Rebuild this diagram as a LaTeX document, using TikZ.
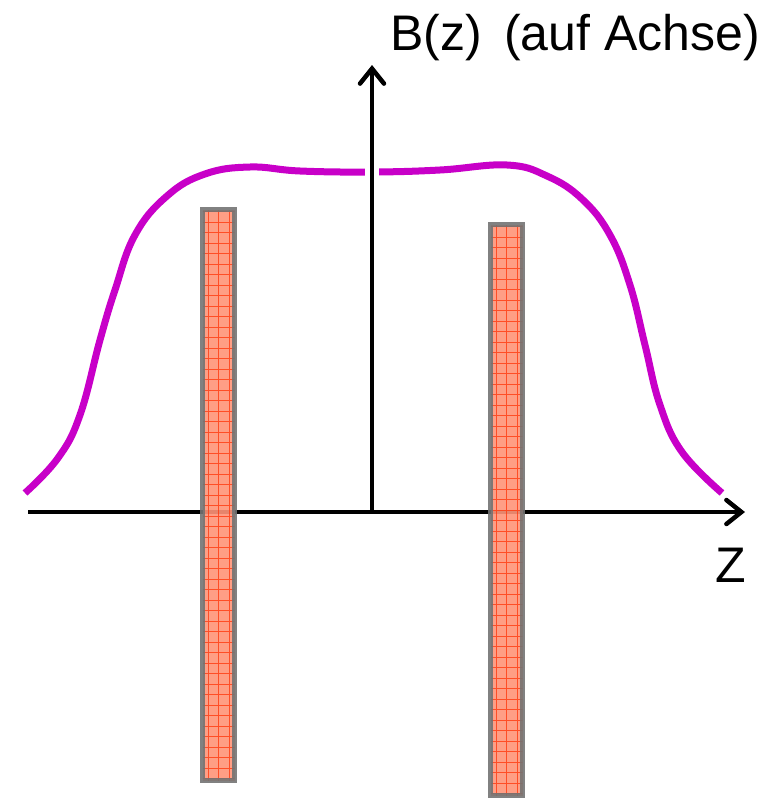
\documentclass[tikz,border=0pt]{standalone}
\usepackage{fontspec}
\setmainfont{Liberation Sans}
\usepackage{tikz}
\usetikzlibrary{arrows.meta, positioning}
\definecolor{mymagenta}{HTML}{C800C8}
\definecolor{coilfill}{HTML}{FF9478}
\definecolor{coilgrid}{HTML}{FF3A10}
\tikzset{
	axisline/.style={
			line width=4.5pt,
			draw=black,
			-{Straight Barb[length=15pt, width=24pt, line cap=round]}
		},
	fieldcurve/.style={
			line width=7pt,
			draw=mymagenta
		},
	coilnode/.style={
			rectangle,
			draw=black!55,
			line width=5pt,
			draw opacity=0.9,
			fill=coilfill,
			fill opacity=0.9,
			minimum width=32pt,
			minimum height=571pt,
			inner sep=0pt,
			path picture={
					\draw[coilgrid, line width=1pt, opacity=0.8]
					(path picture bounding box.south west) grid[step=10.5pt]
					(path picture bounding box.north east);
				}
		},
	labelnode/.style={
			inner sep=0pt,
			font=\fontsize{50}{60}\selectfont
		}
}

\begin{document}
\begin{tikzpicture}[x=1pt, y=-1pt]
\useasboundingbox (0,0) rectangle (771,798);

% field on the axis
\draw[fieldcurve] plot[smooth, tension=0.7] coordinates {
	(25,493) (58,458) (80,415) (100,340) (115,290)
	(135,235) (167,196) (205,174) (250,167) (300,171) (372,172)
	(440,170) (507,165) (547,176) (582,199) (610,235) (630,285)
	(645,345) (660,405) (682,452) (722,493)};

% axes
\coordinate (o) at (372,512);
\coordinate (xs) at (28,512);
\coordinate (xe) at (745,512);
\coordinate (ye) at (372,65);
\fill[white] (365,161) rectangle (379,184);
\draw[axisline] (o) -- (ye);
\draw[axisline] (xs) -- (xe);

% coils
\node[coilnode] (coilL) at (218.5,495) {};
\node[coilnode] (coilR) at (506.5,510) {};

% labels
\node[labelnode, anchor=base west] (bz) at (390,50) {B(z)};
\node[labelnode, anchor=base east] (achse) at (760,50) {(auf Achse)};
\node[labelnode, anchor=base west] (zlab) at (715,582) {Z};
\end{tikzpicture}
\end{document}
